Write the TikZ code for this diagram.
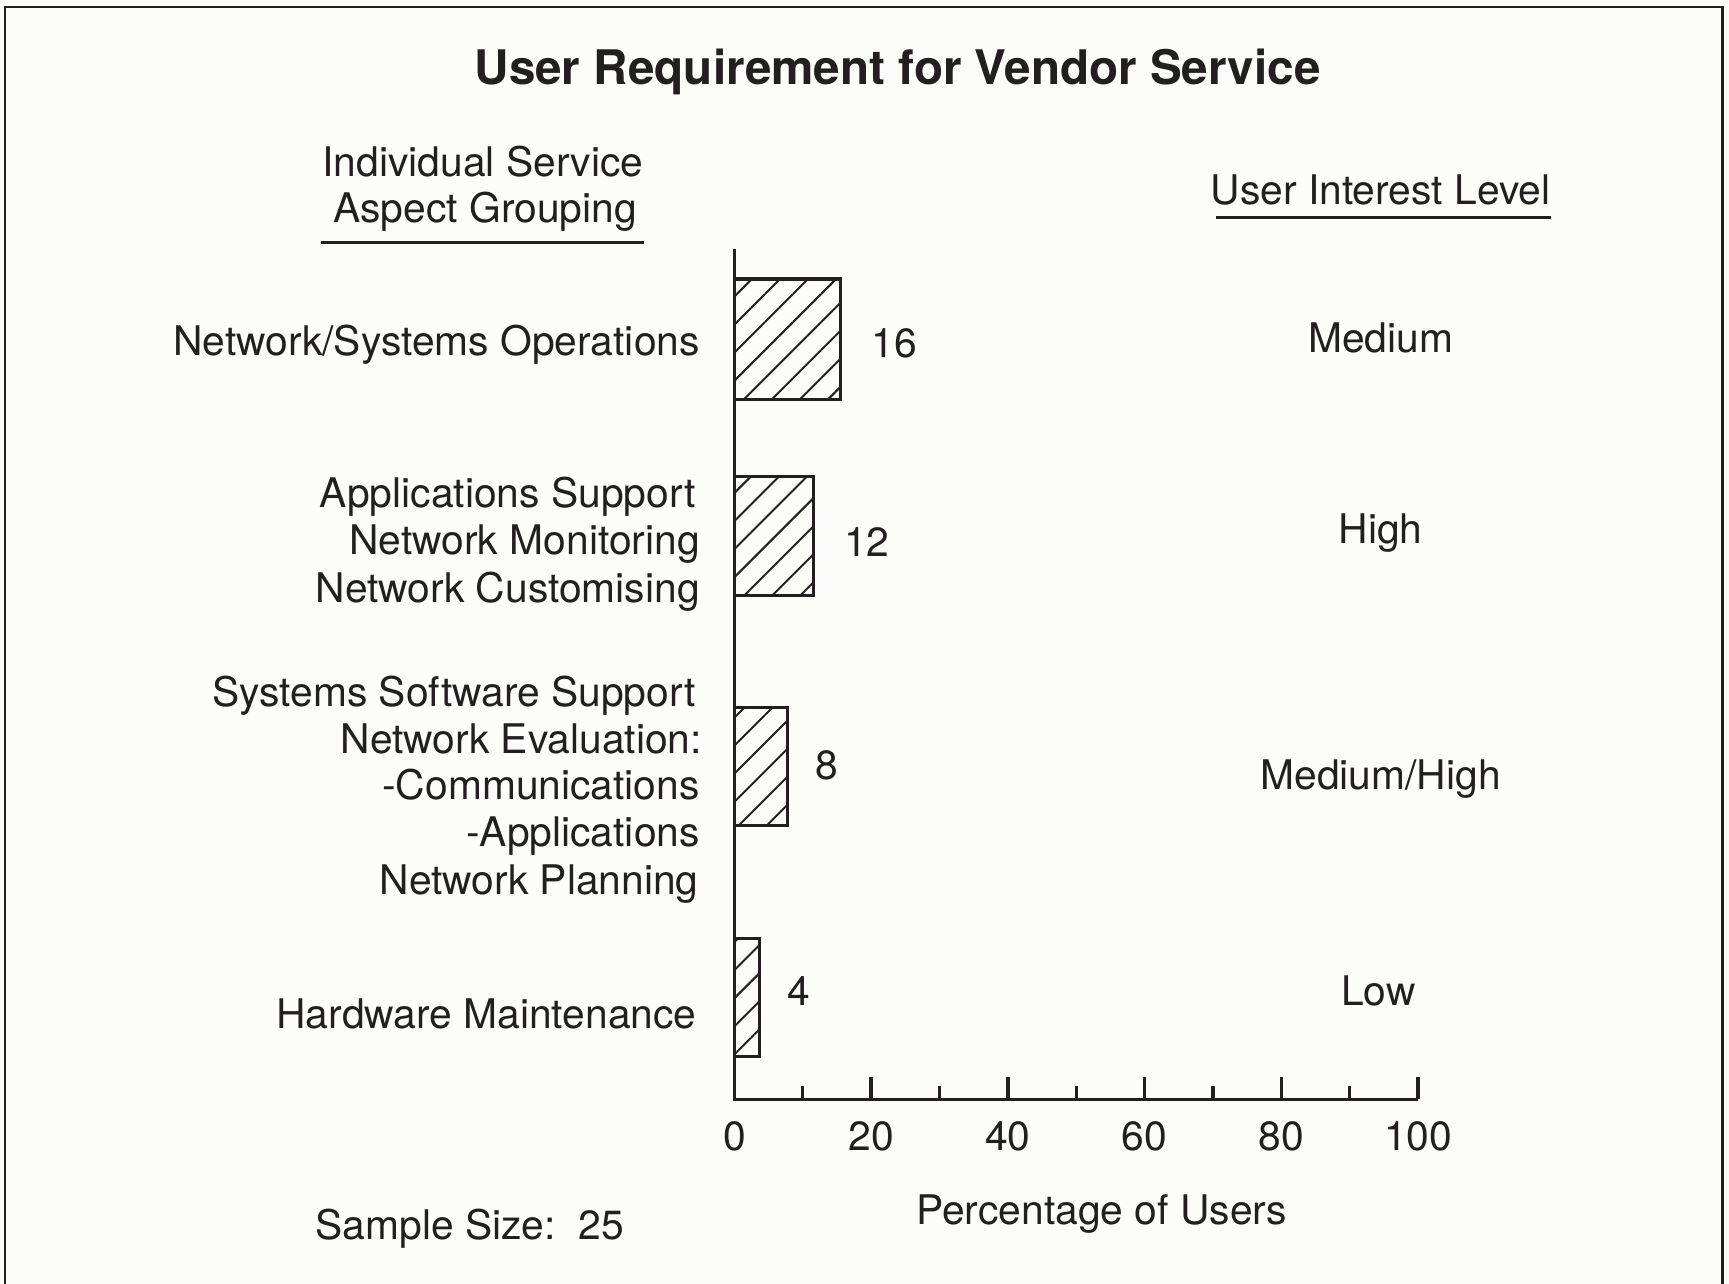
\documentclass[tikz,border=0pt]{standalone}
\usepackage{fontspec}
\setmainfont{TeX Gyre Heros}
\usetikzlibrary{patterns.meta}
\definecolor{ink}{HTML}{231F20}
\definecolor{paper}{HTML}{FCFCF8}
\tikzset{
  lbl/.style={inner sep=0pt, text=ink, font=\fontsize{18.5}{21}\selectfont},
  leftlbl/.style={lbl, anchor=base east},
  midlbl/.style={lbl, anchor=base},
  ttl/.style={inner sep=0pt, text=ink, font=\fontsize{21.6}{26}\selectfont\bfseries, anchor=base},
  axisline/.style={draw=ink, line width=1.5pt},
  bar/.style={draw=ink, line width=1.4pt,
    pattern={Lines[angle=45,distance=9pt,line width=0.9pt]}, pattern color=ink},
  rule/.style={draw=ink, line width=1.2pt},
}
\begin{document}
\begin{tikzpicture}[x=0.5pt,y=-0.5pt]
  % page and frame
  \fill[paper] (0,0) rectangle (1568,1164);
  \useasboundingbox (0,0) rectangle (1568,1164);
  \draw[ink, line width=1pt] (4.5,1164) -- (4.5,6.5) -- (1562,6.5) -- (1562,1164);

  % title
  \node[ttl] (title) at (814,77) {User Requirement for Vendor Service};

  % column headings
  \node[midlbl] (h1a) at (438,160) {Individual Service};
  \node[midlbl] (h1b) at (440,202) {Aspect Grouping};
  \coordinate (u1s) at (291,220);
  \coordinate (u1e) at (584,220);
  \draw[rule] (u1s) -- (u1e);
  \node[midlbl] (h2) at (1252,185) {User Interest Level};
  \coordinate (u2s) at (1103,197);
  \coordinate (u2e) at (1407,197);
  \draw[rule] (u2s) -- (u2e);

  % axes
  \coordinate (o) at (666,997);
  \coordinate (ytop) at (666,226);
  \coordinate (xend) at (1286,997);
  \draw[axisline] (ytop) -- (o) -- (xend);
  \foreach \k in {1,...,10}{
    \pgfmathsetmacro{\tx}{666+62*\k}
    \pgfmathsetmacro{\th}{ifthenelse(mod(\k,2)==0,20,12)}
    \draw[axisline] (\tx,997) -- (\tx,997-\th);
  }
  \foreach \v [count=\i from 0] in {0,20,40,60,80,100}{
    \node[midlbl] (t\v) at (666+124*\i,1043) {\v};
  }
  \node[midlbl] (xlab) at (999,1110) {Percentage of Users};
  \node[midlbl] (ss) at (426,1124) {Sample Size:\ \ 25};

  % bars
  \draw[bar] (666,253) rectangle (762,362);
  \draw[bar] (666,432) rectangle (738,540);
  \draw[bar] (666,642) rectangle (714,749);
  \draw[bar] (666,851) rectangle (689,958);

  % bar values
  \node[midlbl] (v16) at (811,324) {16};
  \node[midlbl] (v12) at (786,505) {12};
  \node[midlbl] (v8) at (750,707) {8};
  \node[midlbl] (v4) at (724,912) {4};

  % service groupings
  \node[leftlbl] (g1) at (635,322) {Network/Systems Operations};
  \node[leftlbl] (g2a) at (631,460) {Applications Support};
  \node[leftlbl] (g2b) at (635,503) {Network Monitoring};
  \node[leftlbl] (g2c) at (635,546) {Network Customising};
  \node[leftlbl] (g3a) at (631,641) {Systems Software Support};
  \node[leftlbl] (g3b) at (637,683) {Network Evaluation:};
  \node[leftlbl] (g3c) at (635,725) {-Communications};
  \node[leftlbl] (g3d) at (635,768) {-Applications};
  \node[leftlbl] (g3e) at (634,811) {Network Planning};
  \node[leftlbl] (g4) at (632,933) {Hardware Maintenance};

  % interest levels
  \node[midlbl] (l1) at (1252,320) {Medium};
  \node[midlbl] (l2) at (1252,493) {High};
  \node[midlbl] (l3) at (1252,716) {Medium/High};
  \node[midlbl] (l4) at (1250,912) {Low};
\end{tikzpicture}
\end{document}
